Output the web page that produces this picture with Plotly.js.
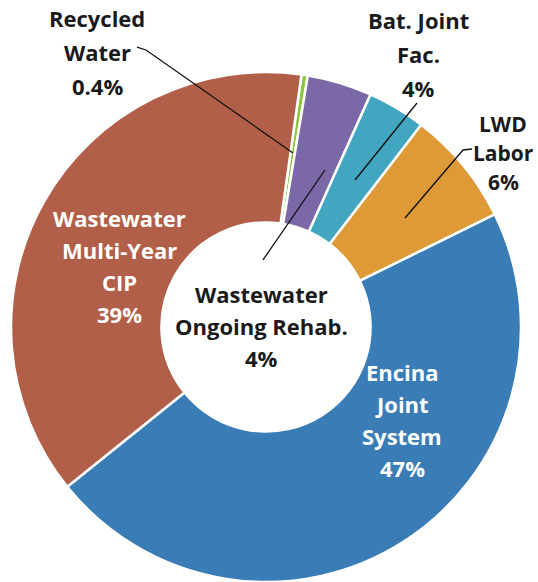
<!DOCTYPE html>
<html>
<head>
<meta charset="utf-8">
<script src="https://cdn.plot.ly/plotly-3.0.1.min.js"></script>
<style>html,body{margin:0;padding:0;background:#fff;}#chart{width:538px;height:582px;}</style>
</head>
<body>
<div id="chart"></div>
<script>
// Data (clockwise from 12 o'clock)
var categories = ["Recycled Water", "Wastewater Ongoing Rehab.", "Bat. Joint Fac.", "LWD Labor", "Encina Joint System", "Wastewater Multi-Year CIP"];
var values = [0.4, 4.1, 3.7, 7.3, 46.5, 38.0];
var percentLabels = ["0.4%", "4%", "4%", "6%", "47%", "39%"];
var colors = ["#8cc63e", "#7b68a6", "#43a6c0", "#dd9a36", "#3a7cb5", "#b25f49"];

// label line pieces (each label drawn line by line)
var labelLines = [
  ["Recycled", "Water", percentLabels[0]],
  ["Wastewater", "Ongoing Rehab.", percentLabels[1]],
  ["Bat. Joint", "Fac.", percentLabels[2]],
  ["LWD", "Labor", percentLabels[3]],
  ["Encina", "Joint", "System", percentLabels[4]],
  ["Wastewater", "Multi-Year", "CIP", percentLabels[5]]
];

var W = 538, H = 582;
function px(x) { return x / W; }
function py(y) { return 1 - y / H; }

// label placement (pixel centers of first line, line step, colour, size)
var labelPos = [
  {x: 97, y: 18, step: 34, color: "#1a1a1a", size: 22},
  {x: 261, y: 294, step: 32, color: "#1a1a1a", size: 22},
  {x: 418, y: 20, step: 34, color: "#1a1a1a", size: 22},
  {x: 503, y: 124, step: 29, color: "#1a1a1a", size: 21},
  {x: 402, y: 372, step: 32, color: "#ffffff", size: 22},
  {x: 119, y: 218, step: 32, color: "#ffffff", size: 22}
];

var annotations = [];
labelLines.forEach(function (lines, i) {
  var p = labelPos[i];
  lines.forEach(function (t, j) {
    annotations.push({
      xref: "paper", yref: "paper",
      x: px(p.x), y: py(p.y + j * p.step),
      text: t, showarrow: false,
      xanchor: "center", yanchor: "middle",
      font: {family: "Open Sans, sans-serif", size: p.size, color: p.color, weight: "bold"}
    });
  });
});

// leader lines (pixel paths)
var leaders = [
  [[137, 47], [146, 50], [293, 153]],
  [[263, 260], [325, 170]],
  [[417, 103], [355, 180]],
  [[472, 149], [463, 150], [405, 218]]
];
var shapes = leaders.map(function (pts) {
  var d = pts.map(function (p, k) { return (k ? "L" : "M") + px(p[0]).toFixed(4) + "," + py(p[1]).toFixed(4); }).join(" ");
  return {type: "path", xref: "paper", yref: "paper", path: d, line: {color: "#111", width: 1.3}};
});

var cx = 266, cy = 327, r = 255;
var trace = {
  type: "pie",
  labels: categories,
  values: values,
  sort: false,
  direction: "clockwise",
  rotation: 8,
  hole: 0.41,
  textinfo: "none",
  hoverinfo: "label+percent",
  marker: {colors: colors, line: {color: "#ffffff", width: 2.5}},
  domain: {x: [px(cx - r), px(cx + r)], y: [Math.max(0, py(cy + r)), py(cy - r)]},
  showlegend: false
};

var layout = {
  width: W, height: H,
  margin: {l: 0, r: 0, t: 0, b: 0},
  paper_bgcolor: "#ffffff",
  showlegend: false,
  annotations: annotations,
  shapes: shapes
};

Plotly.newPlot("chart", [trace], layout, {displayModeBar: false, staticPlot: true});
</script>
</body>
</html>
